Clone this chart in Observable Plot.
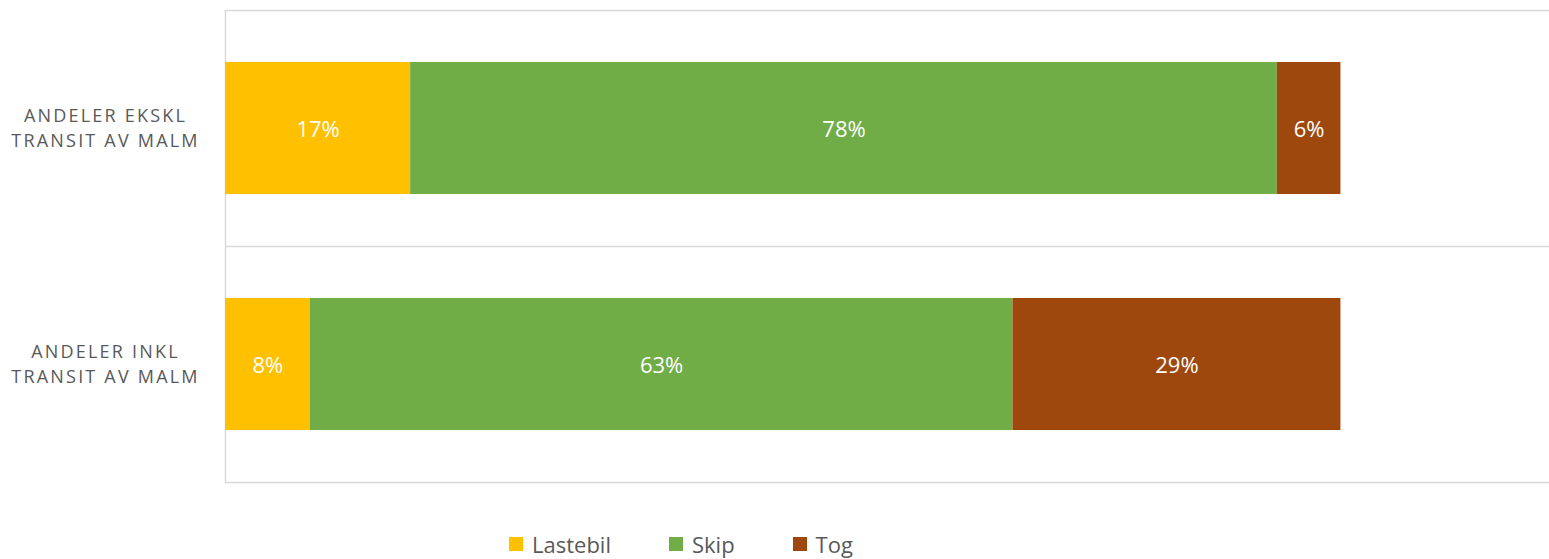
<!DOCTYPE html>
<html>
<head>
<meta charset="utf-8">
<script src="https://cdn.jsdelivr.net/npm/d3@7"></script>
<script src="https://cdn.jsdelivr.net/npm/@observablehq/plot@0.6"></script>
<style>
  html, body { margin: 0; padding: 0; background: #fff; }
  #wrap { position: relative; width: 1549px; height: 559px; font-family: "Open Sans", sans-serif; }
  #legend { position: absolute; left: 509px; top: 529px; display: flex; align-items: center; gap: 58px; font-size: 22px; color: #595959; }
  #legend .item { display: flex; align-items: center; gap: 9px; }
  #legend .sw { width: 14px; height: 14px; display: inline-block; }
</style>
</head>
<body>
<div id="wrap">
  <div id="chart"></div>
  <div id="legend"></div>
</div>
<script>
const categories = ["ANDELER EKSKL\nTRANSIT AV MALM", "ANDELER INKL\nTRANSIT AV MALM"];
const series = ["Lastebil", "Skip", "Tog"];
const colors = ["#FFC000", "#70AD47", "#9E480E"];
const lastebil = [16.6, 7.6];
const skip = [77.7, 63.0];
const tog = [5.7, 29.4];

const values = [lastebil, skip, tog];
const data = [];
series.forEach((s, si) => {
  categories.forEach((c, ci) => {
    data.push({ category: c, mode: s, value: values[si][ci] });
  });
});

const chart = Plot.plot({
  width: 1549,
  height: 500,
  marginLeft: 225,
  marginRight: 0,
  marginTop: 10,
  marginBottom: 18,
  style: { fontFamily: "Open Sans, sans-serif", background: "white" },
  x: { domain: [0, 118.7], axis: null },
  y: { domain: categories, paddingInner: 0.44, paddingOuter: 0.22, label: null },
  color: { domain: series, range: colors },
  marks: [
    Plot.frame({ anchor: "top", stroke: "#d9d9d9", strokeWidth: 1.5 }),
    Plot.frame({ anchor: "bottom", stroke: "#d9d9d9", strokeWidth: 1.5 }),
    Plot.frame({ anchor: "left", stroke: "#d9d9d9", strokeWidth: 1.5 }),
    Plot.ruleY([categories[1]], { y: d => d, dy: -118, stroke: "#d9d9d9", strokeWidth: 1.5 }),
    Plot.barX(data, Plot.stackX({ y: "category", x: "value", fill: "mode", z: "mode", order: series })),
    Plot.text(data, Plot.stackX({
      y: "category", x: "value", z: "mode", order: series,
      text: d => Math.round(d.value) + "%",
      fill: "white", fontSize: 22, dy: 1
    })),
    Plot.axisY({
      tickSize: 0,
      textAnchor: "middle",
      dx: -111,
      dy: -2,
      fontSize: 18,
      lineHeight: 1.42,
      fill: "#595959",
      label: null
    })
  ]
});
chart.querySelectorAll('g[aria-label="y-axis tick label"]').forEach(g => {
  g.setAttribute("font-size", "18");
  g.style.fontSize = "18px";
  g.querySelectorAll("text").forEach(t => { t.style.fontSize = "18px"; t.style.letterSpacing = "2.2px"; });
});
document.getElementById("chart").appendChild(chart);

const legend = document.getElementById("legend");
series.forEach((s, i) => {
  const item = document.createElement("div");
  item.className = "item";
  item.innerHTML = `<span class="sw" style="background:${colors[i]}"></span><span>${s}</span>`;
  legend.appendChild(item);
});
</script>
</body>
</html>
